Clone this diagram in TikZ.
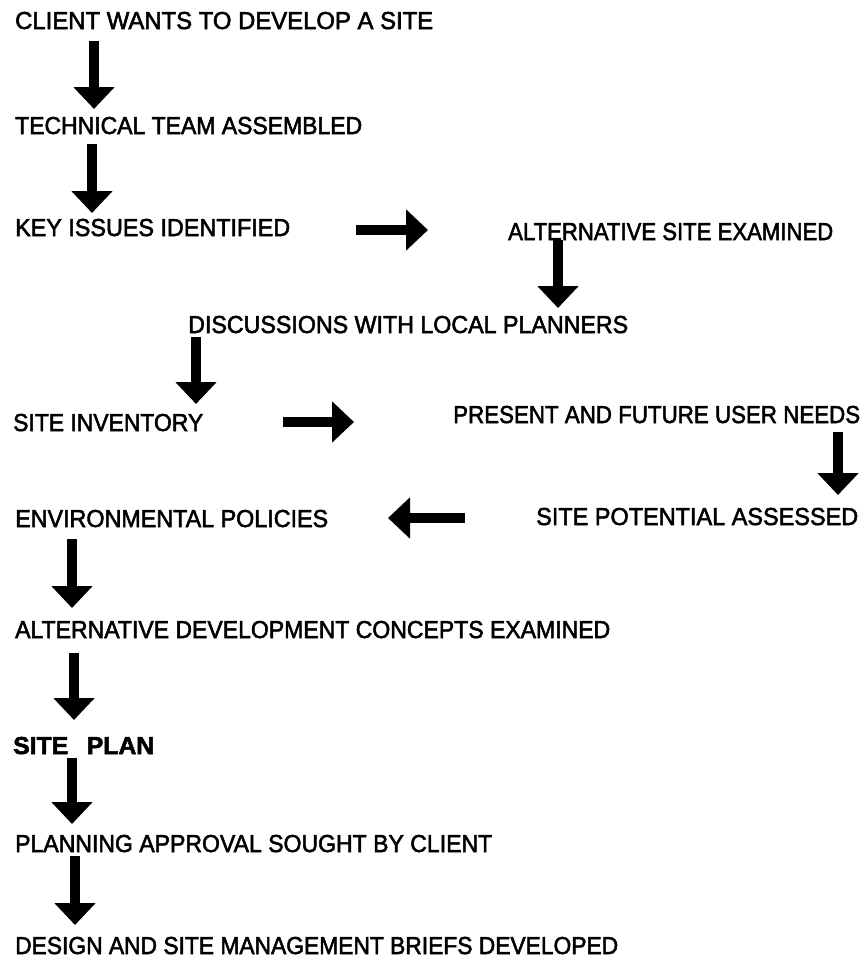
\documentclass[tikz,border=0pt]{standalone}
\usepackage{fontspec}
\setmainfont{Liberation Sans}
\usetikzlibrary{arrows.meta}
% heavier lettering: fill and stroke the glyph outlines
\newcommand\heavy[1]{\special{pdf:literal 2 Tr 0.55 w}#1\special{pdf:literal 0 Tr}}
% set a label at its printed width, keeping its height
\newcommand\fitw[2]{\resizebox{#1pt}{\height}{\heavy{#2}}}
\tikzset{
  lbl/.style={anchor=base west, inner sep=0pt, font=\fontsize{24.5}{28}\selectfont},
  blk/.style={line width=10pt, -{Triangle[width=40pt,length=22pt]}}
}
\begin{document}
\begin{tikzpicture}[x=1pt,y=-1pt]
\useasboundingbox (0,0) rectangle (865,961);
\fill[white] (0,0) rectangle (865,961);

% stages
\node[lbl] (client)  at (15,29)  {\fitw{418}{CLIENT WANTS TO DEVELOP A SITE}};
\node[lbl] (team)    at (15,134) {\fitw{347}{TECHNICAL TEAM ASSEMBLED}};
\node[lbl] (issues)  at (15,236) {\fitw{275}{KEY ISSUES IDENTIFIED}};
\node[lbl] (altsite) at (508,240) {\fitw{325}{ALTERNATIVE SITE EXAMINED}};
\node[lbl] (discuss) at (188,333) {\fitw{440}{DISCUSSIONS WITH LOCAL PLANNERS}};
\node[lbl] (invent)  at (13,431) {\fitw{190}{SITE INVENTORY}};
\node[lbl] (needs)   at (453,423) {\fitw{407}{PRESENT AND FUTURE USER NEEDS}};
\node[lbl] (potent)  at (536,525) {\fitw{322}{SITE POTENTIAL ASSESSED}};
\node[lbl] (envpol)  at (15,527) {\fitw{313}{ENVIRONMENTAL POLICIES}};
\node[lbl] (altdev)  at (15,638) {\fitw{595}{ALTERNATIVE DEVELOPMENT CONCEPTS EXAMINED}};
\node[lbl] (plan)    at (13,754) {\fitw{141}{\bfseries SITE\hspace{0.75em}PLAN}};
\node[lbl] (approv)  at (15,852) {\fitw{477}{PLANNING APPROVAL SOUGHT BY CLIENT}};
\node[lbl] (briefs)  at (15,954) {\fitw{603}{DESIGN AND SITE MANAGEMENT BRIEFS DEVELOPED}};

% arrow ends
\coordinate (a1s) at (94,41);   \coordinate (a1e) at (94,109);
\coordinate (a2s) at (92,144);  \coordinate (a2e) at (92,213);
\coordinate (a3s) at (356,230); \coordinate (a3e) at (428,230);
\coordinate (a4s) at (558,240); \coordinate (a4e) at (558,308);
\coordinate (a5s) at (196,337); \coordinate (a5e) at (196,404);
\coordinate (a6s) at (283,422); \coordinate (a6e) at (354,422);
\coordinate (a7s) at (838,432); \coordinate (a7e) at (838,495);
\coordinate (a8s) at (465,518); \coordinate (a8e) at (388,518);
\coordinate (a9s) at (72,539);  \coordinate (a9e) at (72,608);
\coordinate (a10s) at (74,653); \coordinate (a10e) at (74,720);
\coordinate (a11s) at (72,758); \coordinate (a11e) at (72,824);
\coordinate (a12s) at (75,856); \coordinate (a12e) at (75,925);

% flow arrows
\foreach \i in {1,...,12} \draw[blk] (a\i s) -- (a\i e);
\end{tikzpicture}
\end{document}
